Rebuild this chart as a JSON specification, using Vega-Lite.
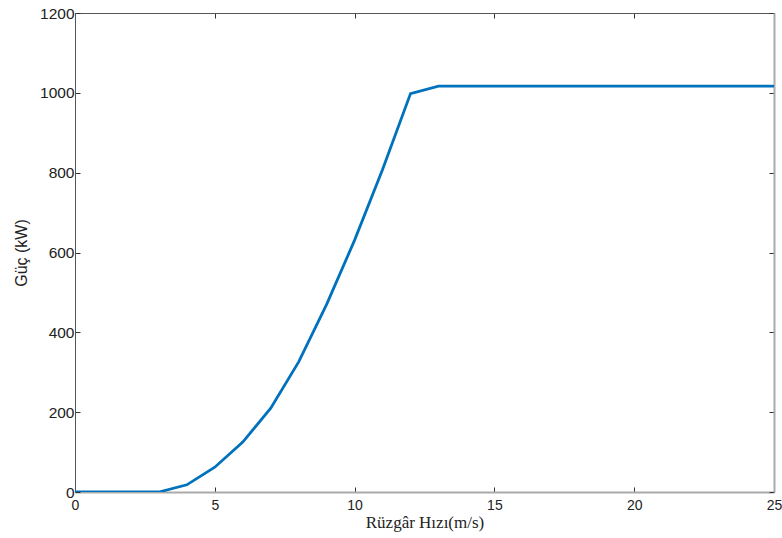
{
  "$schema": "https://vega.github.io/schema/vega-lite/v6.json",
  "width": 699,
  "height": 479,
  "autosize": {"type": "none"},
  "padding": {"left": 75, "top": 13, "right": 8, "bottom": 46},
  "background": "white",
  "config": {
    "view": {"stroke": null},
    "axis": {"grid": false, "labelFont": "Liberation Sans", "titleFont": "Liberation Sans", "labelColor": "#222", "titleColor": "#222", "tickColor": "#333", "titleFontWeight": "normal", "format": "d"}
  },
  "data": {
    "values": [
      {"v": 0, "p": 0}, {"v": 1, "p": 0}, {"v": 2, "p": 0}, {"v": 3, "p": 0},
      {"v": 4, "p": 18}, {"v": 5, "p": 62}, {"v": 6, "p": 125}, {"v": 7, "p": 210},
      {"v": 8, "p": 326}, {"v": 9, "p": 470}, {"v": 10, "p": 631}, {"v": 11, "p": 808},
      {"v": 12, "p": 998}, {"v": 13, "p": 1017}, {"v": 14, "p": 1017}, {"v": 15, "p": 1017},
      {"v": 16, "p": 1017}, {"v": 17, "p": 1017}, {"v": 18, "p": 1017}, {"v": 19, "p": 1017},
      {"v": 20, "p": 1017}, {"v": 21, "p": 1017}, {"v": 22, "p": 1017}, {"v": 23, "p": 1017},
      {"v": 24, "p": 1017}, {"v": 25, "p": 1017}
    ]
  },
  "resolve": {"axis": {"x": "independent", "y": "independent"}},
  "layer": [
    {
      "mark": {"type": "line", "opacity": 0},
      "encoding": {
        "x": {"field": "v", "type": "quantitative", "scale": {"domain": [0, 25], "nice": false, "zero": false},
          "axis": {"orient": "top", "labels": false, "title": null, "values": [0, 5, 10, 15, 20, 25], "tickSize": -5, "domainColor": "#555", "domainWidth": 1}},
        "y": {"field": "p", "type": "quantitative", "scale": {"domain": [0, 1200], "nice": false},
          "axis": {"orient": "right", "labels": false, "title": null, "values": [0, 200, 400, 600, 800, 1000, 1200], "tickSize": -5, "domainColor": "#aaa", "domainWidth": 2}}
      }
    },
    {
      "mark": {"type": "line", "color": "#0072BD", "strokeWidth": 2.8, "clip": true},
      "encoding": {
        "x": {"field": "v", "type": "quantitative", "scale": {"domain": [0, 25], "nice": false, "zero": false},
          "axis": {"orient": "bottom", "title": "Rüzgâr Hızı(m/s)", "titleFont": "Liberation Serif", "titleFontSize": 17, "titlePadding": 2, "labelFontSize": 14, "labelPadding": 11, "values": [0, 5, 10, 15, 20, 25], "tickSize": -5, "domainColor": "#aaa", "domainWidth": 2, "labelFlush": false}},
        "y": {"field": "p", "type": "quantitative", "scale": {"domain": [0, 1200], "nice": false},
          "axis": {"orient": "left", "title": "Güç (kW)", "titleFontSize": 16, "titlePadding": 10, "labelFontSize": 15.5, "labelPadding": 6, "values": [0, 200, 400, 600, 800, 1000, 1200], "tickSize": -5, "domainColor": "#555", "domainWidth": 1, "labelFlush": false}}
      }
    }
  ]
}
